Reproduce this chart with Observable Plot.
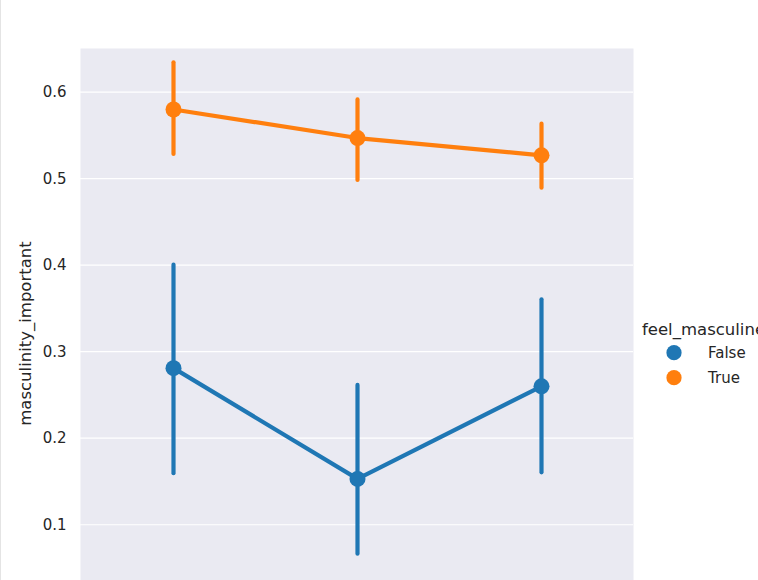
<!DOCTYPE html>
<html>
<head>
<meta charset="utf-8">
<script src="https://cdn.jsdelivr.net/npm/d3@7"></script>
<script src="https://cdn.jsdelivr.net/npm/@observablehq/plot@0.6"></script>
<style>
  html, body { margin: 0; padding: 0; background: #fff; }
  #wrap { position: relative; width: 758px; height: 580px; overflow: hidden; font-family: "DejaVu Sans", sans-serif; color: #262626; }
  #wrap > svg.plot { position: absolute; left: 0; top: 0; }
  #edge { position: absolute; left: 0; top: 0; width: 1px; height: 580px; background: #e4e4e4; }
  #legend { position: absolute; left: 0; top: 0; }
</style>
</head>
<body>
<div id="wrap"><div id="edge"></div></div>
<script>
const categories = ["18 - 34", "35 - 64", "65 and up"];
const groups = ["False", "True"];
const colors = ["#1f77b4", "#ff7f0e"];
const meanFalse = [0.281, 0.153, 0.260];
const lowFalse  = [0.159, 0.066, 0.160];
const highFalse = [0.400, 0.261, 0.360];
const meanTrue  = [0.580, 0.547, 0.527];
const lowTrue   = [0.528, 0.498, 0.489];
const highTrue  = [0.634, 0.591, 0.563];
const yTicks = [0.1, 0.2, 0.3, 0.4, 0.5, 0.6];

const rows = [];
categories.forEach((c, i) => {
  rows.push({cat: c, group: "False", mean: meanFalse[i], lo: lowFalse[i], hi: highFalse[i]});
  rows.push({cat: c, group: "True", mean: meanTrue[i], lo: lowTrue[i], hi: highTrue[i]});
});

const plot = Plot.plot({
  width: 758,
  height: 618,
  marginLeft: 80,
  marginRight: 125,
  marginTop: 48,
  marginBottom: 0,
  style: {fontFamily: '"DejaVu Sans", sans-serif', fontSize: "15px", color: "#262626", background: "transparent"},
  x: {type: "point", domain: categories, padding: 0.5, axis: null},
  y: {domain: [-0.0084, 0.6505], ticks: yTicks, tickFormat: d3.format(".1f")},
  color: {domain: groups, range: colors},
  marks: [
    Plot.frame({fill: "#EAEAF2", stroke: null}),
    Plot.gridY(yTicks, {stroke: "#ffffff", strokeOpacity: 1, strokeWidth: 1.2}),
    Plot.axisY({ticks: yTicks, tickSize: 0, tickPadding: 14, tickFormat: d3.format(".1f"), fill: "#262626", label: null}),
    Plot.axisY({ticks: [], tickSize: 0, label: "masculinity_important", labelAnchor: "center", labelArrow: "none",
      labelOffset: 61, fill: "#262626", fontSize: 16.5}),
    Plot.ruleX(rows, {x: "cat", y1: "lo", y2: "hi", stroke: "group", strokeWidth: 4.2, strokeLinecap: "round"}),
    Plot.line(rows, {x: "cat", y: "mean", z: "group", stroke: "group", strokeWidth: 4.2, strokeLinejoin: "round"}),
    Plot.dot(rows, {x: "cat", y: "mean", fill: "group", r: 8, stroke: null})
  ]
});
plot.classList.add("plot");
document.getElementById("wrap").appendChild(plot);

// legend (real text, drawn in an overlay svg)
const leg = d3.select("#wrap").append("svg").attr("id", "legend").attr("width", 758).attr("height", 580);
leg.append("text").attr("x", 642).attr("y", 335).attr("font-size", 16.5).attr("fill", "#262626")
  .attr("font-family", '"DejaVu Sans", sans-serif').text("feel_masculine");
groups.forEach((g, i) => {
  const cy = 352.7 + i * 25;
  leg.append("circle").attr("cx", 674).attr("cy", cy).attr("r", 7.6).attr("fill", colors[i]);
  leg.append("text").attr("x", 708).attr("y", cy + 5.5).attr("font-size", 15).attr("fill", "#262626")
    .attr("font-family", '"DejaVu Sans", sans-serif').text(g);
});
</script>
</body>
</html>
